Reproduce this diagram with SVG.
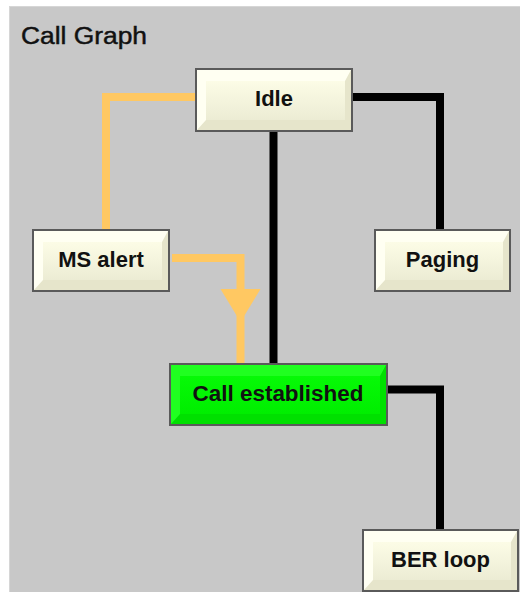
<svg xmlns="http://www.w3.org/2000/svg" width="520" height="592" viewBox="0 0 520 592">
<defs>
<linearGradient id="creamFace" x1="0" y1="0" x2="0" y2="1">
<stop offset="0" stop-color="#fcfce6"/>
<stop offset="1" stop-color="#ececd4"/>
</linearGradient>
<linearGradient id="greenFace" x1="0" y1="0" x2="0" y2="1">
<stop offset="0" stop-color="#06fa06"/>
<stop offset="1" stop-color="#00ee00"/>
</linearGradient>
</defs>
<style>
.panel{fill:#c8c8c8}
.title{font-family:"Liberation Sans",Arial,sans-serif;font-size:23px;fill:#111;stroke:#111;stroke-width:0.45}
.frame{stroke:#5a5a5a;stroke-width:2}
.cream .frame{fill:#e6e5cb}
.cream .hi{fill:#fffff2}
.cream .face{fill:url(#creamFace)}
.green .frame{fill:#00e000}
.green .hi{fill:#20ff20}
.green .face{fill:url(#greenFace)}
.label{font-family:"Liberation Sans",Arial,sans-serif;font-weight:bold;font-size:22px;fill:#111;text-anchor:middle}
.wire{fill:none;stroke-width:8;stroke-linejoin:miter;stroke-linecap:butt}
.orange{stroke:#ffc862}
.black{stroke:#000}
.arrow{fill:#ffc862}
</style>
<rect x="0" y="0" width="520" height="592" fill="#ffffff"/>
<rect class="panel" x="9" y="6" width="511" height="586"/>
<rect x="9" y="6" width="1" height="586" fill="#d6d6d6"/>
<rect x="9" y="6" width="511" height="1" fill="#d6d6d6"/>
<text class="title" x="21" y="43.5" textLength="126" lengthAdjust="spacingAndGlyphs">Call Graph</text>

<g id="connectors">
<path class="wire orange" d="M196,97 H106 V230"/>
<path class="wire orange" d="M172,258 H240.5 V363"/>
<polygon class="arrow" points="220.5,289 260.5,289 240.5,322"/>
<path class="wire black" d="M352,97 H440 V230"/>
<path class="wire black" d="M273.5,131 V364"/>
<path class="wire black" d="M388,389.5 H440 V530"/>
</g>

<g id="node-idle" class="cream">
<rect class="frame" x="196" y="69" width="156" height="62"/>
<polygon class="hi" points="197,70 351,70 345,81 206,81 206,120 197,130"/>
<rect class="face" x="206" y="81" width="139" height="39"/>
<text class="label" x="274" y="106">Idle</text>
</g>

<g id="node-ms-alert" class="cream">
<rect class="frame" x="33" y="230" width="136" height="61"/>
<polygon class="hi" points="34,231 168,231 162,242 43,242 43,280 34,290"/>
<rect class="face" x="43" y="242" width="119" height="38"/>
<text class="label" x="101" y="267">MS alert</text>
</g>

<g id="node-paging" class="cream">
<rect class="frame" x="375" y="230" width="135" height="61"/>
<polygon class="hi" points="376,231 509,231 503,242 385,242 385,280 376,290"/>
<rect class="face" x="385" y="242" width="118" height="38"/>
<text class="label" x="442.5" y="267">Paging</text>
</g>

<g id="node-call-established" class="green">
<rect class="frame" x="170" y="364" width="217" height="61"/>
<polygon class="hi" points="171,365 386,365 380,376 180,376 180,414 171,424"/>
<rect class="face" x="180" y="376" width="200" height="38"/>
<text class="label" x="278" y="401" textLength="171" lengthAdjust="spacingAndGlyphs">Call established</text>
</g>

<g id="node-ber-loop" class="cream">
<rect class="frame" x="363" y="530" width="155" height="61"/>
<polygon class="hi" points="364,531 517,531 511,542 373,542 373,580 364,590"/>
<rect class="face" x="373" y="542" width="138" height="38"/>
<text class="label" x="440.5" y="567">BER loop</text>
</g>
</svg>
